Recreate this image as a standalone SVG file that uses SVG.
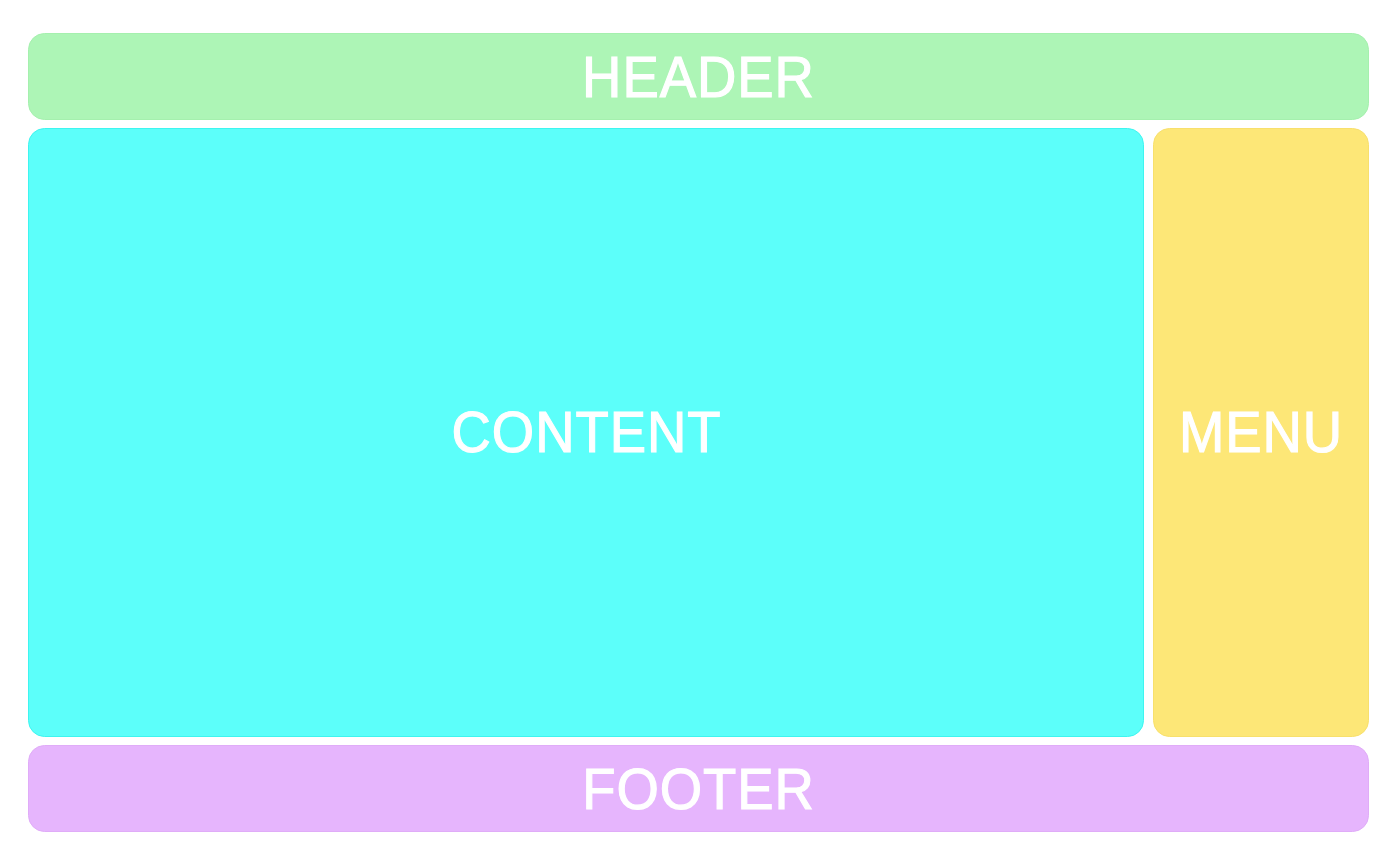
<svg xmlns="http://www.w3.org/2000/svg" width="1400" height="857" viewBox="0 0 1400 857">
<style>
.box{stroke-width:1}
.lbl{font-family:"Liberation Sans",Arial,sans-serif;font-size:58px;fill:#ffffff;stroke:#ffffff;stroke-width:1.1px;text-anchor:middle;letter-spacing:1px}
</style>
<rect width="1400" height="857" fill="#ffffff"/>
<g id="header">
<rect class="box" x="28.5" y="33.5" width="1340" height="86" rx="16" fill="#adf5b6" stroke="#a5f0ae"/>
<text class="lbl" transform="translate(698.5 96.5) scale(0.94 1)">HEADER</text>
</g>
<g id="content">
<rect class="box" x="28.5" y="128.5" width="1115" height="608" rx="16" fill="#5cfffa" stroke="#3ef5f0"/>
<text class="lbl" transform="translate(586.5 451.5) scale(0.94 1)">CONTENT</text>
</g>
<g id="menu">
<rect class="box" x="1153.5" y="128.5" width="215" height="608" rx="16" fill="#fde777" stroke="#f8e06c"/>
<text class="lbl" transform="translate(1261 451.5) scale(0.94 1)">MENU</text>
</g>
<g id="footer">
<rect class="box" x="28.5" y="745.5" width="1340" height="86" rx="16" fill="#e6b5fd" stroke="#e0acf8"/>
<text class="lbl" transform="translate(698.5 808.5) scale(0.94 1)">FOOTER</text>
</g>
<g id="connectors"></g>
</svg>
